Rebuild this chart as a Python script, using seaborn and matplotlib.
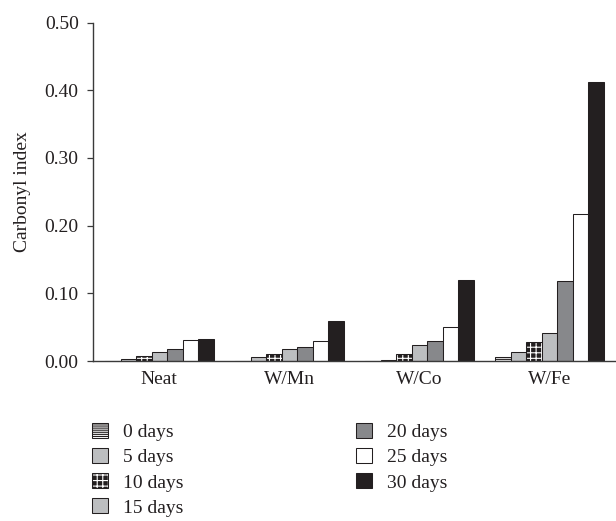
import matplotlib
matplotlib.use("Agg")
import matplotlib.pyplot as plt
import matplotlib.colors as mcolors
from matplotlib.patches import Patch
from matplotlib.ticker import FormatStrFormatter
import pandas as pd
import seaborn as sns

# Samples and exposure times
samples = ["Neat", "W/Mn", "W/Co", "W/Fe"]
days = ["0 days", "5 days", "10 days", "15 days", "20 days", "25 days", "30 days"]

# Carbonyl index for each sample, one value per exposure time
neat = [0.000, 0.003, 0.007, 0.014, 0.017, 0.031, 0.032]
w_mn = [0.000, 0.006, 0.010, 0.017, 0.021, 0.030, 0.059]
w_co = [0.000, 0.002, 0.010, 0.023, 0.029, 0.050, 0.119]
w_fe = [0.006, 0.013, 0.028, 0.042, 0.118, 0.217, 0.412]

y_ticks = [0.0, 0.1, 0.2, 0.3, 0.4, 0.5]

# Bar styling per exposure time
ink = "#231f20"
fills = ["#ffffff", "#bcbec0", ink, "#bcbec0", "#87888b", "#ffffff", ink]
hatches = ["--------", None, "+++", None, None, None, None]
hatch_colors = [ink, None, "#ffffff", None, None, None, None]

sns.set_style("ticks")
plt.rcParams["font.family"] = ["Liberation Serif", "DejaVu Serif"]
plt.rcParams["hatch.linewidth"] = 0.8
plt.rcParams["text.color"] = ink
plt.rcParams["axes.labelcolor"] = ink
plt.rcParams["xtick.color"] = ink
plt.rcParams["ytick.color"] = ink

records = []
for name, vals in zip(samples, [neat, w_mn, w_co, w_fe]):
    for d, v in zip(days, vals):
        records.append({"sample": name, "days": d, "ci": v})
df = pd.DataFrame(records)

W, H = 616, 521
fig = plt.figure(figsize=(W / 100, H / 100), dpi=100)
ax = fig.add_axes([93 / W, 1 - 361 / H, (615 - 93) / W, (361 - 22.5) / H])

sns.barplot(
    data=df, x="sample", y="ci", hue="days",
    order=samples, hue_order=days,
    palette=dict(zip(days, fills)), saturation=1,
    width=0.835, gap=0, errorbar=None,
    edgecolor=ink, linewidth=0.75, legend=False, ax=ax,
)

for cont, h, hc in zip(ax.containers, hatches, hatch_colors):
    for p in cont.patches:
        p.set_edgecolor(ink)
        if h:
            p.set_hatch(h)
            p._hatch_color = mcolors.to_rgba(hc)

ax.set_xlim(-0.51, -0.51 + 522 / 130)
ax.set_ylim(0, 0.5)
ax.set_yticks(y_ticks)
ax.yaxis.set_major_formatter(FormatStrFormatter("%.2f"))
ax.set_xlabel("")
ax.set_ylabel("Carbonyl index", fontsize=14)
ax.yaxis.set_label_coords(-0.118, 0.5)

sns.despine(ax=ax)
for side in ("left", "bottom"):
    ax.spines[side].set_linewidth(1.0)
    ax.spines[side].set_color("#3a3a3a")

ax.tick_params(axis="y", direction="out", length=4.3, width=0.9,
               labelsize=14, pad=6, color="#3a3a3a")
ax.tick_params(axis="x", length=0, labelsize=14, pad=7)

# Legend in two columns beneath the plot
handles = []
for f, h in zip(fills, hatches):
    handles.append(Patch(facecolor=f, edgecolor=ink, hatch=h, linewidth=0.75))
leg = fig.legend(
    handles, days, ncol=2, loc="upper left",
    bbox_to_anchor=(92 / W, 1 - 423 / H), frameon=False,
    fontsize=14, handlelength=0.82, handleheight=0.82,
    handletextpad=0.78, columnspacing=8.85, labelspacing=0.35,
    borderpad=0, borderaxespad=0,
)
for lp, hc in zip(leg.get_patches(), hatch_colors):
    if hc:
        lp._hatch_color = mcolors.to_rgba(hc)

fig.savefig("out.png", dpi=100)
